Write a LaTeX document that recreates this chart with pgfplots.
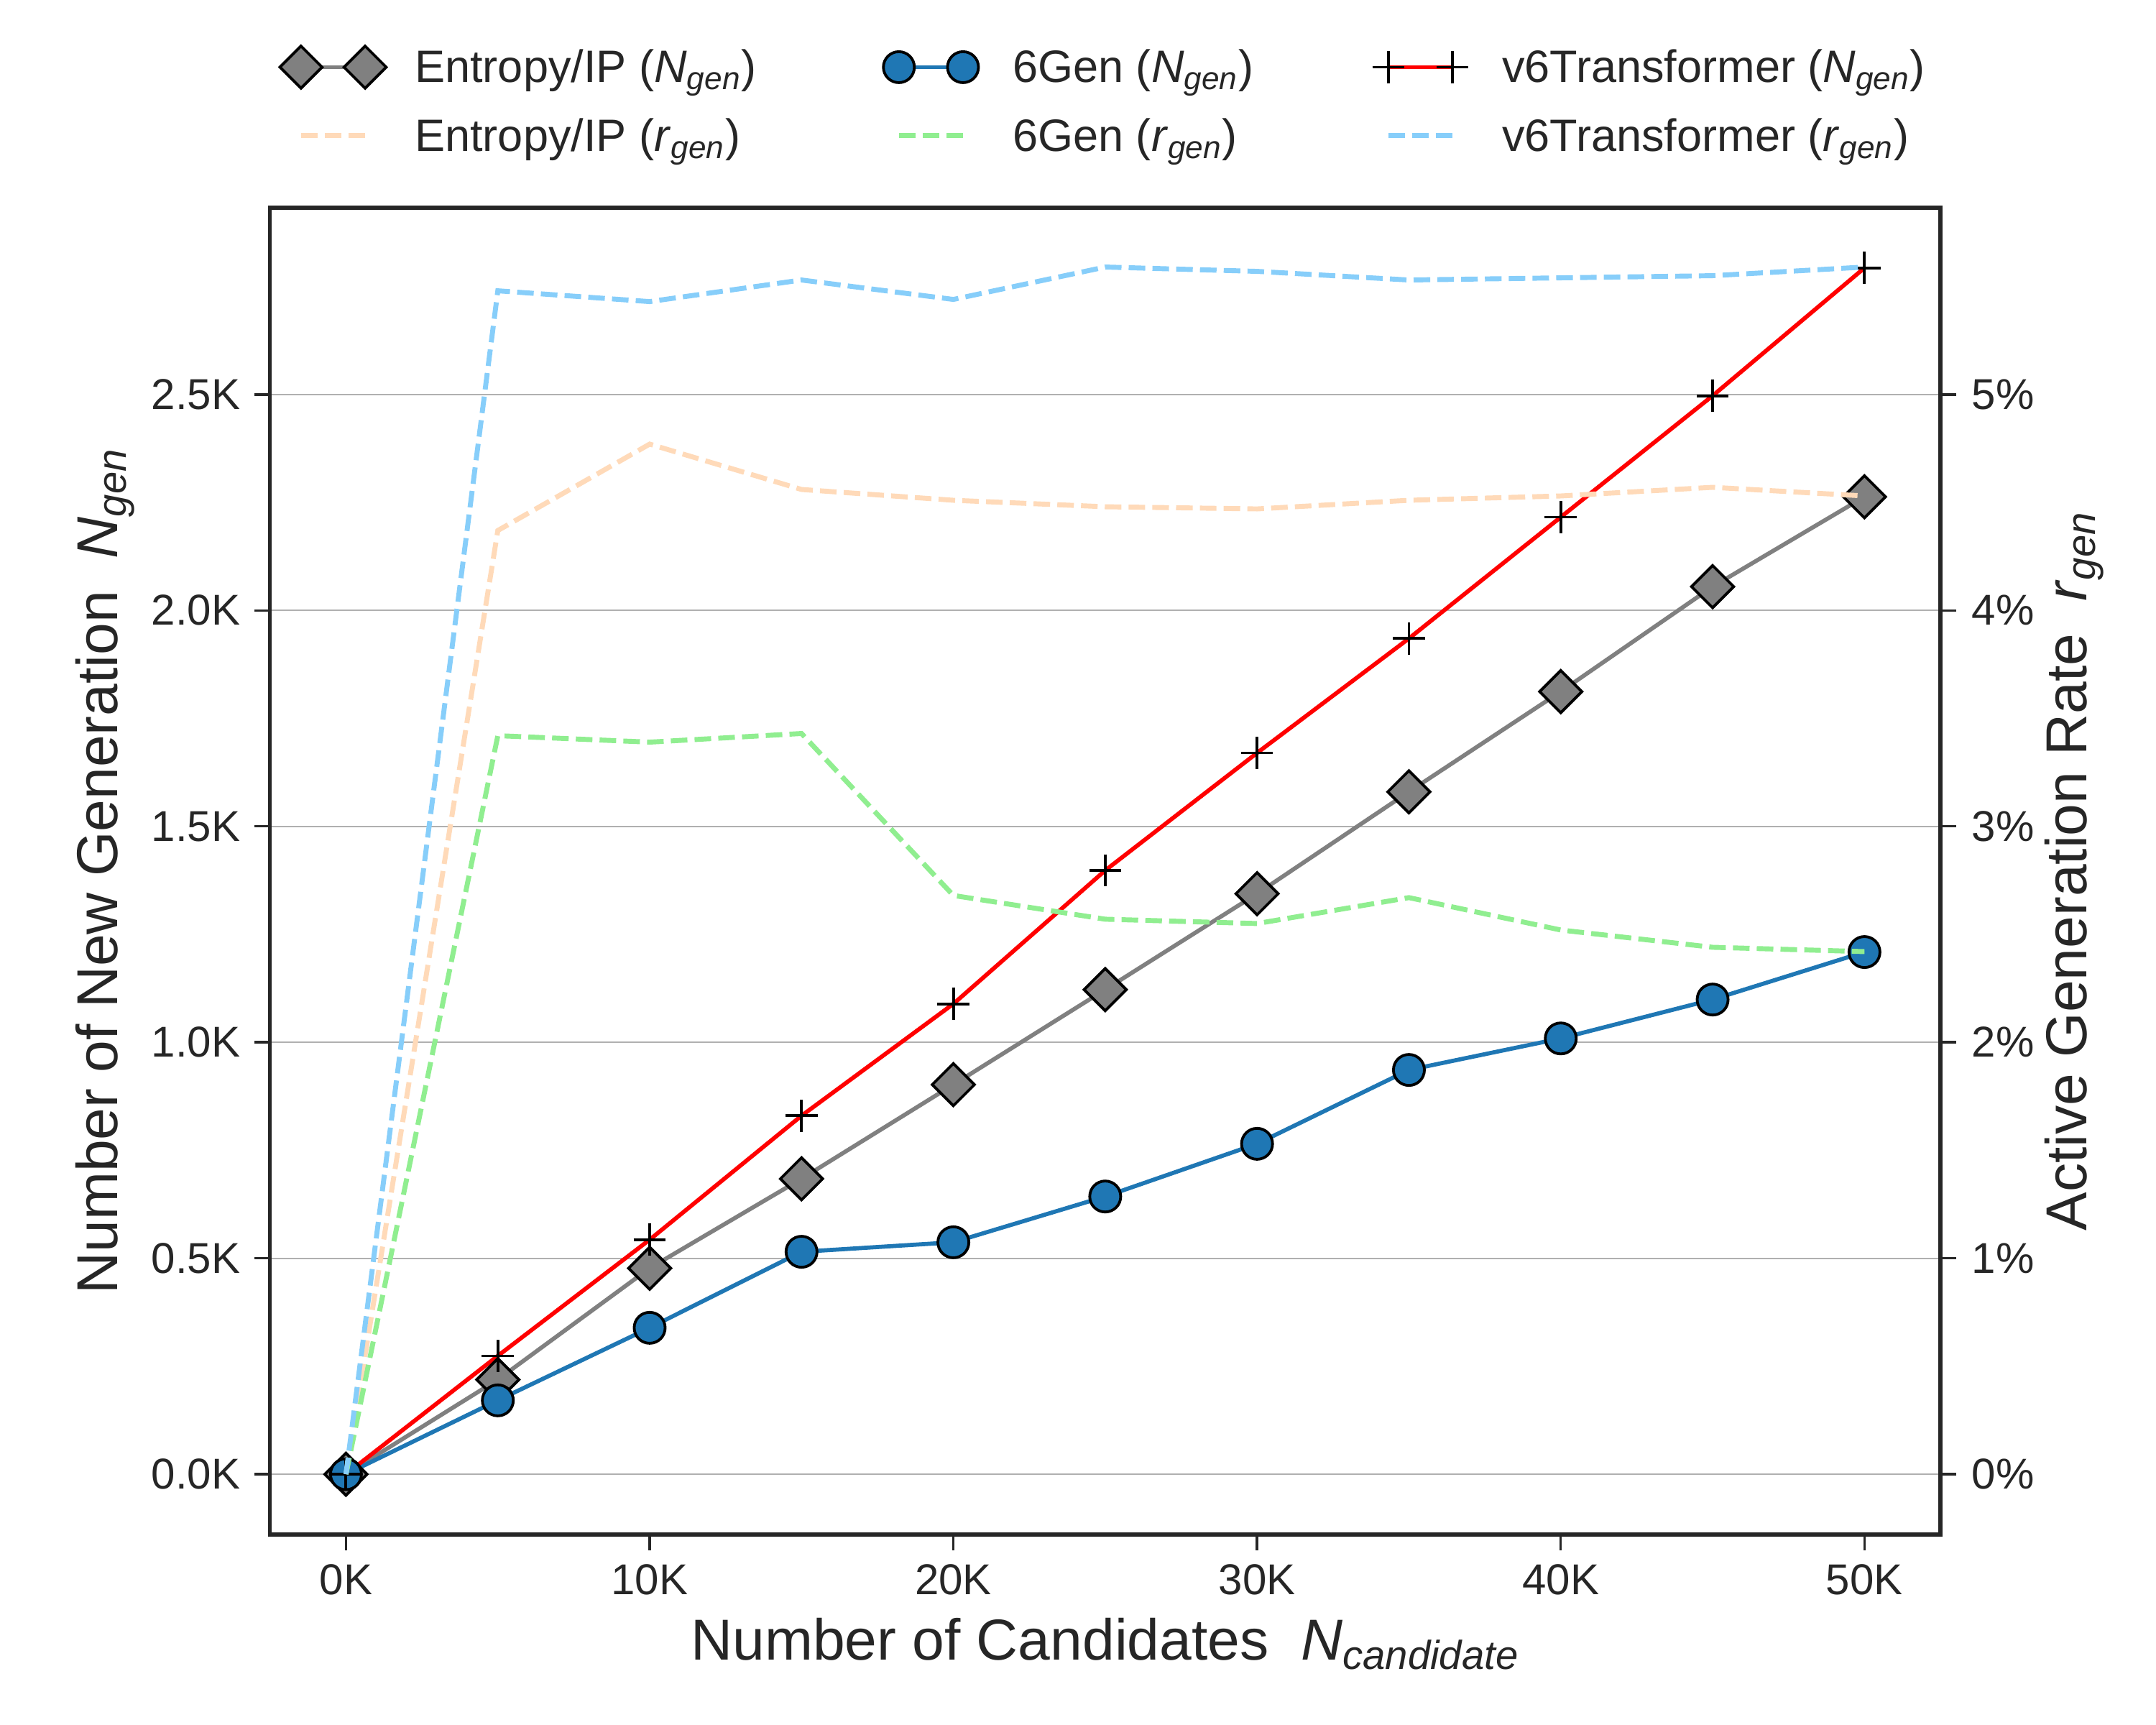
\documentclass[border=0pt]{standalone}
\usepackage{fontspec}
\setmainfont{Liberation Sans}
\usepackage{pgfplots}
\usepackage{pgfplotstable}
\pgfplotsset{compat=1.18}
\usetikzlibrary{calc}
\definecolor{txt}{HTML}{262626}
\definecolor{gridc}{HTML}{B0B0B0}
\definecolor{c6gen}{HTML}{1F77B4}
\definecolor{peach}{HTML}{FFDAB9}
\definecolor{lgreen}{HTML}{90EE90}
\definecolor{lsky}{HTML}{87CEFA}
\newcommand{\Ngen}{\textit{N}\textsubscript{\textit{gen}}}
\newcommand{\rgen}{\textit{r}\textsubscript{\textit{gen}}}
\newcommand{\LE}[2]{\makebox[#1][l]{\raisebox{0pt}[12pt][6pt]{#2}}}
\newcommand{\LH}[1]{\raisebox{0pt}[12pt][6pt]{#1}}

\pgfplotstableread{
x ent sixgen v6t entr sixr v6tr
0 0 0 0 0 0 0
5000 219 171 274 4.37 3.42 5.48
10000 477 339 543 4.77 3.39 5.43
15000 684 515 830 4.56 3.43 5.53
20000 902 537 1089 4.51 2.68 5.44
25000 1122 643 1398 4.48 2.57 5.59
30000 1344 765 1670 4.47 2.55 5.57
35000 1580 936 1935 4.51 2.67 5.53
40000 1812 1009 2216 4.53 2.52 5.54
45000 2055 1099 2497 4.57 2.44 5.55
50000 2263 1209 2793 4.53 2.42 5.59
}\data

\pgfplotsset{
  common/.style={
    scale only axis, width=604.3pt, height=480pt,
    xmin=-2500, xmax=52500,
    tick align=outside, major tick length=5.7pt,
    tick style={line width=0.9pt, color=txt},
    axis line style={line width=1.4pt, color=txt},
    tick label style={font=\fontsize{15.6}{18}\selectfont, color=txt, inner sep=0pt},
    label style={font=\fontsize{20.9}{25}\selectfont, color=txt},
    /pgf/number format/assume math mode=true,
    scaled ticks=false,
  },
  entstyle/.style={color=gray, line width=1.5pt, mark=square*, mark size=5.4pt,
    mark options={rotate=45, fill=gray, draw=black, line width=1pt, solid}},
  genstyle/.style={color=c6gen, line width=1.5pt, mark=*, mark size=5.6pt,
    mark options={fill=c6gen, draw=black, line width=1pt, solid}},
  v6style/.style={color=red, line width=1.5pt, mark=+, mark size=5.8pt,
    mark options={draw=black, line width=1pt, solid}},
  rstyle/.style={line width=1.8pt, dash pattern=on 6pt off 2.6pt},
}

\begin{document}
\begin{tikzpicture}
\path[use as bounding box] (-97.7pt,-68.9pt) rectangle (682.3pt,555.1pt);
\begin{axis}[common,
  ymin=-139.65, ymax=2932.65,
  xtick={0,10000,20000,30000,40000,50000},
  xticklabels={0K,10K,20K,30K,40K,50K},
  ytick={0,500,1000,1500,2000,2500},
  yticklabels={0.0K,0.5K,1.0K,1.5K,2.0K,2.5K},
  xtick pos=bottom, ytick pos=left,
  xticklabel style={yshift=-5pt},
  yticklabel style={xshift=-4.9pt},
  ymajorgrids, grid style={line width=0.5pt, color=gridc},
  xlabel={Number of Candidates~~\textit{N}\textsubscript{\textit{candidate}}},
  ylabel={Number of New Generation~~\Ngen},
  xlabel style={at={($(axis description cs:0.5,0)+(0pt,-45.3pt)$)}, anchor=base},
  ylabel style={at={($(axis description cs:0,0.5)+(-55.3pt,0pt)$)}, anchor=base},
]
\addplot[entstyle] table[x=x,y=ent]{\data};
\addplot[genstyle] table[x=x,y=sixgen]{\data};
\addplot[v6style] table[x=x,y=v6t]{\data};
\end{axis}
\begin{axis}[common,
  ymin=-0.2793, ymax=5.8653,
  axis y line*=right, axis x line=none,
  ytick={0,1,2,3,4,5},
  yticklabels={0\%,1\%,2\%,3\%,4\%,5\%},
  yticklabel style={xshift=5.5pt},
  ylabel={Active Generation Rate~~\rgen},
  ylabel style={at={($(axis description cs:1,0.5)+(53pt,0pt)$)}, anchor=base, rotate=0},
  legend columns=3,
  legend image code/.code={\path[draw=none, fill=none] (-8.5pt,-2.9pt) rectangle (31.7pt,14.1pt);
     \draw[#1] plot coordinates {(0pt,5.6pt) (23.2pt,5.6pt)};},
  legend style={at={(0,1)}, anchor=north west, xshift=2.7pt, yshift=59.3pt,
    draw=none, fill=none, inner sep=0pt, outer sep=0pt,
    font=\fontsize{16.4}{19}\selectfont, text=txt, row sep=7.8pt,
    cells={anchor=base west}, nodes={inner sep=0pt, outer sep=0pt},
    /tikz/every odd column/.append style={column sep=9.5pt},
    /tikz/every even column/.append style={column sep=0pt}},
]
\addlegendimage{entstyle}
\addlegendentry{\LE{166.6pt}{Entropy/IP (\Ngen)}}
\addlegendimage{genstyle}
\addlegendentry{\LE{127.4pt}{6Gen (\Ngen)}}
\addlegendimage{v6style}
\addlegendentry{\LH{v6Transformer (\Ngen)}}
\addplot[rstyle, color=peach] table[x=x,y=entr]{\data};
\addlegendentry{\LH{Entropy/IP (\rgen)}}
\addplot[rstyle, color=lgreen] table[x=x,y=sixr]{\data};
\addlegendentry{\LH{6Gen (\rgen)}}
\addplot[rstyle, color=lsky] table[x=x,y=v6tr]{\data};
\addlegendentry{\LH{v6Transformer (\rgen)}}
\end{axis}
\end{tikzpicture}
\end{document}
